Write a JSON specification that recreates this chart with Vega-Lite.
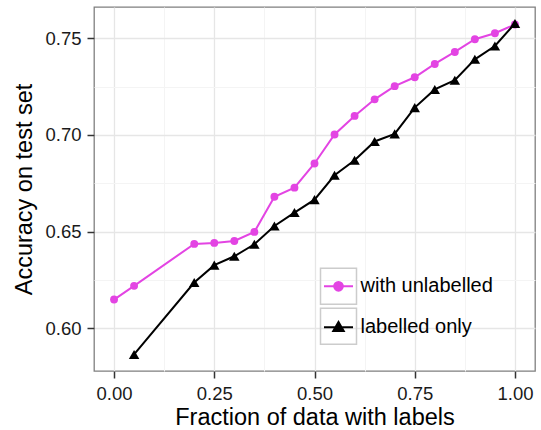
{
  "$schema": "https://vega.github.io/schema/vega-lite/v6.json",
  "width": 441,
  "height": 364,
  "autosize": "none",
  "padding": {"left": 94, "top": 7, "right": 6, "bottom": 59},
  "config": {
    "font": "Liberation Sans",
    "view": {"stroke": "#7F7F7F", "strokeWidth": 1.3},
    "legend": {"rowPadding": -5},
    "axis": {
      "domain": false,
      "tickColor": "#333333",
      "tickWidth": 1.5,
      "tickSize": 7,
      "labelFont": "Liberation Sans",
      "labelFontSize": 18.5,
      "labelColor": "#1a1a1a",
      "titleFont": "Liberation Sans",
      "titleFontSize": 23.5,
      "titleFontWeight": "normal",
      "titleColor": "#000000"
    }
  },
  "data": {
    "values": [
      {"fraction": 0.0, "accuracy": 0.6148, "series": "with unlabelled"},
      {"fraction": 0.05, "accuracy": 0.6219, "series": "with unlabelled"},
      {"fraction": 0.2, "accuracy": 0.6436, "series": "with unlabelled"},
      {"fraction": 0.25, "accuracy": 0.6441, "series": "with unlabelled"},
      {"fraction": 0.3, "accuracy": 0.6451, "series": "with unlabelled"},
      {"fraction": 0.35, "accuracy": 0.6498, "series": "with unlabelled"},
      {"fraction": 0.4, "accuracy": 0.668, "series": "with unlabelled"},
      {"fraction": 0.45, "accuracy": 0.6727, "series": "with unlabelled"},
      {"fraction": 0.5, "accuracy": 0.6852, "series": "with unlabelled"},
      {"fraction": 0.55, "accuracy": 0.7002, "series": "with unlabelled"},
      {"fraction": 0.6, "accuracy": 0.7098, "series": "with unlabelled"},
      {"fraction": 0.65, "accuracy": 0.7184, "series": "with unlabelled"},
      {"fraction": 0.7, "accuracy": 0.7252, "series": "with unlabelled"},
      {"fraction": 0.75, "accuracy": 0.7298, "series": "with unlabelled"},
      {"fraction": 0.8, "accuracy": 0.7367, "series": "with unlabelled"},
      {"fraction": 0.85, "accuracy": 0.7429, "series": "with unlabelled"},
      {"fraction": 0.9, "accuracy": 0.7495, "series": "with unlabelled"},
      {"fraction": 0.95, "accuracy": 0.7526, "series": "with unlabelled"},
      {"fraction": 1.0, "accuracy": 0.7571, "series": "with unlabelled"},
      {"fraction": 0.05, "accuracy": 0.5864, "series": "labelled only"},
      {"fraction": 0.2, "accuracy": 0.6236, "series": "labelled only"},
      {"fraction": 0.25, "accuracy": 0.6326, "series": "labelled only"},
      {"fraction": 0.3, "accuracy": 0.6372, "series": "labelled only"},
      {"fraction": 0.35, "accuracy": 0.6434, "series": "labelled only"},
      {"fraction": 0.4, "accuracy": 0.6529, "series": "labelled only"},
      {"fraction": 0.45, "accuracy": 0.6598, "series": "labelled only"},
      {"fraction": 0.5, "accuracy": 0.6665, "series": "labelled only"},
      {"fraction": 0.55, "accuracy": 0.6791, "series": "labelled only"},
      {"fraction": 0.6, "accuracy": 0.6869, "series": "labelled only"},
      {"fraction": 0.65, "accuracy": 0.6966, "series": "labelled only"},
      {"fraction": 0.7, "accuracy": 0.7005, "series": "labelled only"},
      {"fraction": 0.75, "accuracy": 0.7141, "series": "labelled only"},
      {"fraction": 0.8, "accuracy": 0.7235, "series": "labelled only"},
      {"fraction": 0.85, "accuracy": 0.7283, "series": "labelled only"},
      {"fraction": 0.9, "accuracy": 0.7391, "series": "labelled only"},
      {"fraction": 0.95, "accuracy": 0.746, "series": "labelled only"},
      {"fraction": 1.0, "accuracy": 0.7576, "series": "labelled only"}
    ]
  },
  "encoding": {
    "x": {
      "field": "fraction",
      "type": "quantitative",
      "scale": {"domain": [-0.05, 1.05], "nice": false, "zero": false},
      "axis": {
        "title": "Fraction of data with labels",
        "values": [0, 0.125, 0.25, 0.375, 0.5, 0.625, 0.75, 0.875, 1],
        "labelExpr": "abs(datum.value*4 - round(datum.value*4)) > 0.01 ? '' : format(datum.value, '.2f')",
        "labelPadding": 6,
        "titlePadding": 3,
        "labelFlush": false,
        "gridColor": {"condition": {"test": "abs(datum.value*4 - round(datum.value*4)) > 0.01", "value": "#F4F4F4"}, "value": "#E6E6E6"},
        "gridWidth": {"condition": {"test": "abs(datum.value*4 - round(datum.value*4)) > 0.01", "value": 1}, "value": 1.3},
        "tickOpacity": {"condition": {"test": "abs(datum.value*4 - round(datum.value*4)) > 0.01", "value": 0}, "value": 1}
      }
    },
    "y": {
      "field": "accuracy",
      "type": "quantitative",
      "scale": {"domain": [0.57784, 0.76616], "nice": false, "zero": false},
      "axis": {
        "title": "Accuracy on test set",
        "values": [0.6, 0.625, 0.65, 0.675, 0.7, 0.725, 0.75],
        "labelExpr": "abs(datum.value*20 - round(datum.value*20)) > 0.01 ? '' : format(datum.value, '.2f')",
        "labelPadding": 6,
        "titlePadding": 8,
        "labelFlush": false,
        "gridColor": {"condition": {"test": "abs(datum.value*20 - round(datum.value*20)) > 0.01", "value": "#F4F4F4"}, "value": "#E6E6E6"},
        "gridWidth": {"condition": {"test": "abs(datum.value*20 - round(datum.value*20)) > 0.01", "value": 1}, "value": 1.3},
        "tickOpacity": {"condition": {"test": "abs(datum.value*20 - round(datum.value*20)) > 0.01", "value": 0}, "value": 1}
      }
    }
  },
  "layer": [
    {
      "mark": {"type": "point", "filled": false, "size": 0, "strokeWidth": 0},
      "encoding": {
        "opacity": {
          "field": "series",
          "type": "ordinal",
          "scale": {"range": [1, 1]},
          "legend": {
            "orient": "none",
            "legendX": 225.5,
            "legendY": 260.3,
            "title": null,
            "padding": 0,
            "symbolType": "M-1,-1H1V1H-1Z",
            "symbolSize": 1296,
            "symbolStrokeColor": "#CCCCCC",
            "symbolFillColor": "transparent",
            "symbolStrokeWidth": 1.5,
            "labelExpr": "''"
          }
        }
      }
    },
    {
      "mark": {"type": "point", "filled": true, "size": 0, "strokeWidth": 0, "opacity": 1},
      "encoding": {
        "fill": {
          "field": "series",
          "type": "nominal",
          "scale": {"domain": ["with unlabelled", "labelled only"], "range": ["#E344E3", "#000000"]},
          "legend": {
            "orient": "none",
            "legendX": 225.5,
            "legendY": 260.3,
            "title": null,
            "padding": 0,
            "symbolSize": 1296,
            "symbolStrokeWidth": 2,
            "symbolOpacity": 1,
            "labelFont": "Liberation Sans",
            "labelFontSize": 20,
            "labelColor": "#000000",
            "labelOffset": 3
          }
        },
        "stroke": {
          "field": "series",
          "type": "nominal",
          "scale": {"domain": ["with unlabelled", "labelled only"], "range": ["#E344E3", "#000000"]}
        },
        "shape": {
          "field": "series",
          "type": "nominal",
          "scale": {
            "domain": ["with unlabelled", "labelled only"],
            "range": [
              "M0,-1M0,1M-0.806,0H0.806M-0.242,0A0.242,0.242,0,1,0,0.242,0A0.242,0.242,0,1,0,-0.242,0Z",
              "M0,-1M0,1M-0.806,0H0.806M0,-0.3L0.29,0.2L-0.29,0.2Z"
            ]
          }
        }
      }
    },
    {
      "mark": {"type": "line", "strokeWidth": 2},
      "encoding": {
        "color": {
          "field": "series",
          "type": "nominal",
          "scale": {"domain": ["with unlabelled", "labelled only"], "range": ["#E344E3", "#000000"]},
          "legend": null
        }
      }
    },
    {
      "transform": [{"filter": "datum.series == 'with unlabelled'"}],
      "mark": {"type": "point", "filled": true, "opacity": 1, "shape": "circle", "size": 62},
      "encoding": {
        "color": {"field": "series", "type": "nominal", "legend": null}
      }
    },
    {
      "transform": [{"filter": "datum.series == 'labelled only'"}],
      "mark": {"type": "point", "filled": true, "opacity": 1, "shape": "triangle-up", "size": 110},
      "encoding": {
        "color": {"field": "series", "type": "nominal", "legend": null}
      }
    }
  ]
}
